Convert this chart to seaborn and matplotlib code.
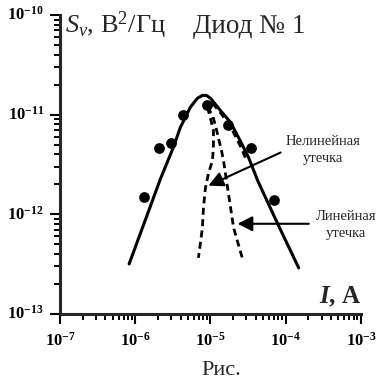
import matplotlib
matplotlib.use("Agg")
import matplotlib.pyplot as plt
import numpy as np
import pandas as pd
import seaborn as sns
from matplotlib.ticker import FixedLocator, FuncFormatter, NullFormatter

# Measured noise spectral density vs. current
current = [1.32e-6, 2.09e-6, 3.0e-6, 4.36e-6, 9.1e-6, 1.7e-5, 3.41e-5, 6.92e-5]
noise = [1.5e-12, 4.6e-12, 5.2e-12, 1.0e-11, 1.24e-11, 7.8e-12, 4.58e-12, 1.40e-12]

# Total model curve
fit_current = [8.3e-7, 1.58e-6, 2.15e-6, 3.21e-6, 3.98e-6, 5.41e-6, 6.71e-6, 7.82e-6,
               8.85e-6, 1.0e-5, 1.36e-5, 1.85e-5, 2.36e-5, 3.21e-5, 4.24e-5, 7.82e-5, 1.49e-4]
fit_noise = [3.18e-13, 1.19e-12, 2.24e-12, 4.69e-12, 7.45e-12, 1.19e-11, 1.46e-11, 1.56e-11,
             1.56e-11, 1.46e-11, 1.10e-11, 8.35e-12, 5.90e-12, 3.72e-12, 2.18e-12, 8.04e-13, 2.90e-13]

# Nonlinear leakage component
nl_current = [9.12e-6, 1.0e-5, 1.096e-5, 1.096e-5, 1.064e-5, 9.4e-6, 8.58e-6, 8.07e-6,
              7.82e-6, 6.92e-6]
nl_noise = [1.19e-11, 9.18e-12, 6.95e-12, 4.91e-12, 3.47e-12, 2.56e-12, 1.85e-12, 1.16e-12,
            7.33e-13, 3.66e-13]

# Linear leakage component
lin_current = [9.12e-6, 1.064e-5, 1.166e-5, 1.28e-5, 1.40e-5, 1.49e-5, 1.69e-5, 2.03e-5, 2.67e-5]
lin_noise = [1.19e-11, 9.84e-12, 7.80e-12, 5.77e-12, 4.37e-12, 3.47e-12, 1.85e-12, 7.33e-13, 3.57e-13]

# High-current component running under the total curve
hi_current = [1.064e-5, 1.445e-5, 1.96e-5, 2.51e-5, 3.02e-5]
hi_noise = [1.30e-11, 9.84e-12, 6.95e-12, 4.80e-12, 3.47e-12]

# Decade ticks on both axes
x_decades = [1e-7, 1e-6, 1e-5, 1e-4, 1e-3]
y_decades = [1e-13, 1e-12, 1e-11, 1e-10]

sns.set_theme(style="ticks")
plt.rcParams["font.family"] = ["Liberation Serif", "DejaVu Serif"]
plt.rcParams["mathtext.fontset"] = "custom"
plt.rcParams["mathtext.rm"] = "Liberation Serif"
plt.rcParams["mathtext.it"] = "Liberation Serif:italic"
plt.rcParams["mathtext.bf"] = "Liberation Serif:bold"
plt.rcParams["mathtext.bfit"] = "Liberation Serif:bold:italic"

fig = plt.figure(figsize=(3.79, 3.79), dpi=100)
ax = fig.add_axes([0.1583, 0.1715, 0.794, 0.789])

pts = pd.DataFrame({"I": current, "S": noise})
fit = pd.DataFrame({"I": fit_current, "S": fit_noise})
nl = pd.DataFrame({"I": nl_current, "S": nl_noise})
lin = pd.DataFrame({"I": lin_current, "S": lin_noise})
hi = pd.DataFrame({"I": hi_current, "S": hi_noise})

dash_kw = dict(color="black", lw=2.0, estimator=None, sort=False, ax=ax)
for d in (nl, lin, hi):
    sns.lineplot(data=d, x="I", y="S", **dash_kw)
for line in ax.lines:
    line.set_dashes((2.5, 1.6))
    line.set_dash_capstyle("butt")

sns.lineplot(data=fit, x="I", y="S", color="black", lw=2.2, estimator=None,
             sort=False, ax=ax)
sns.scatterplot(data=pts, x="I", y="S", color="black", s=60, edgecolor="black",
                linewidth=0, ax=ax, zorder=5)

ax.set_xscale("log")
ax.set_yscale("log")
ax.set_xlim(x_decades[0], x_decades[-1])
ax.set_ylim(y_decades[0], y_decades[-1])
ax.set_xlabel("")
ax.set_ylabel("")

for side in ("top", "right"):
    ax.spines[side].set_visible(False)
for side in ("left", "bottom"):
    ax.spines[side].set_linewidth(2.2)


def minor_between(decades):
    vals = []
    for d in decades[:-1]:
        vals.extend(d * k for k in range(2, 10))
    return vals


ax.xaxis.set_major_locator(FixedLocator(x_decades))
ax.yaxis.set_major_locator(FixedLocator(y_decades))
ax.xaxis.set_minor_locator(FixedLocator(minor_between(x_decades)))
ax.yaxis.set_minor_locator(FixedLocator(minor_between(y_decades)))
fmt = FuncFormatter(lambda v, p: r"$\mathbf{10^{%d}}$" % int(round(np.log10(v))))
ax.xaxis.set_major_formatter(fmt)
ax.yaxis.set_major_formatter(fmt)
ax.xaxis.set_minor_formatter(NullFormatter())
ax.yaxis.set_minor_formatter(NullFormatter())
ax.tick_params(which="major", direction="out", length=7.5, width=1.5,
               labelsize=12, color="black", labelcolor="black")
ax.tick_params(which="minor", direction="out", length=4.3, width=1.4, color="black")
ax.tick_params(axis="x", which="major", pad=5)
ax.tick_params(axis="y", which="major", pad=4)
for lbl in ax.get_yticklabels():
    lbl.set_verticalalignment("center")

# arrows pointing to the leakage components
arrow = dict(arrowstyle="-|>,head_length=0.75,head_width=0.38", color="black", lw=1.5,
             shrinkA=0, shrinkB=0)
ax.annotate("", xy=(9.4e-6, 1.94e-12), xytext=(8.57e-5, 4.17e-12), arrowprops=arrow)
ax.annotate("", xy=(2.29e-5, 8.04e-13), xytext=(2.03e-4, 8.04e-13), arrowprops=arrow)

ax.text(3.11e-4, 4.37e-12, "Нелинейная\nутечка", ha="center", va="center",
        fontsize=10.5, linespacing=1.4)
ax.text(6.31e-4, 7.85e-13, "Линейная\nутечка", ha="center", va="center",
        fontsize=10.5, linespacing=1.4)

fig.text(0.1715, 0.913, r"$S_v$, В$^{2}$/Гц", fontsize=19, ha="left", va="baseline")
fig.text(0.509, 0.913, "Диод № 1", fontsize=19.5, ha="left", va="baseline")
fig.text(0.9525, 0.2005, r"$\mathbfit{I}$, A", fontsize=18, fontweight="bold",
         ha="right", va="baseline")
fig.text(0.583, 0.0106, "Рис.", fontsize=16, ha="center", va="baseline")

fig.savefig("out.png", dpi=100)
